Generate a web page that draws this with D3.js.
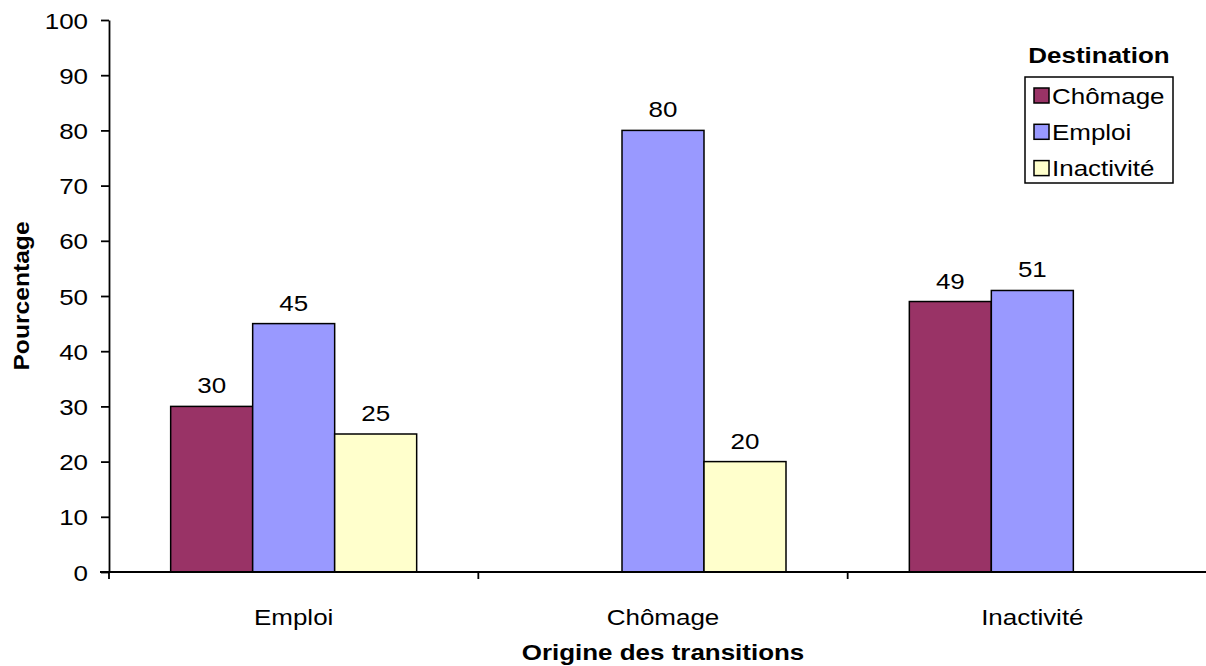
<!DOCTYPE html>
<html>
<head>
<meta charset="utf-8">
<script src="https://cdn.jsdelivr.net/npm/d3@7"></script>
<style>
  html, body { margin: 0; padding: 0; background: #fff; }
  svg { display: block; font-family: "Liberation Sans", Arial, sans-serif; }
</style>
</head>
<body>
<svg id="chart" width="1206" height="666"></svg>
<script>
// Origin of transitions (x categories) and destination series
const origins = ["Emploi", "Chômage", "Inactivité"];
const destinations = ["Chômage", "Emploi", "Inactivité"];
const seriesColors = ["#993366", "#9999FF", "#FFFFCC"];
// Percentage for each destination, by origin (null = no bar)
const toChomage    = [30, null, 49];
const toEmploi     = [45, 80, 51];
const toInactivite = [25, 20, null];
const yTicks = [0, 10, 20, 30, 40, 50, 60, 70, 80, 90, 100];

const seriesValues = [toChomage, toEmploi, toInactivite];

const svg = d3.select("#chart");
const FS = 22, SX = 1.18;   // text size and horizontal stretch

const plot = { left: 109, right: 1217, top: 20, bottom: 572 };

const x = d3.scaleBand().domain(origins).range([plot.left, plot.right]).paddingInner(0).paddingOuter(0);
const groupW = 246;
const xs = d3.scaleBand().domain(destinations).range([0, groupW]).padding(0);
const y = d3.scaleLinear().domain([0, 100]).range([plot.bottom, plot.top]);

function label(g, px, py, str, anchor, bold, size) {
  return g.append("text")
    .attr("transform", `translate(${px},${py}) scale(${SX},1)`)
    .attr("text-anchor", anchor || "middle")
    .attr("font-size", size || FS)
    .attr("font-weight", bold ? "bold" : "normal")
    .attr("fill", "#000")
    .text(str);
}

// Bars with value labels
const bars = svg.append("g");
origins.forEach((o, i) => {
  const gx = x(o) + (x.bandwidth() - groupW) / 2;
  destinations.forEach((d, j) => {
    const v = seriesValues[j][i];
    if (v == null) return;
    const bx = gx + xs(d);
    bars.append("rect")
      .attr("x", bx).attr("y", y(v))
      .attr("width", xs.bandwidth()).attr("height", y(0) - y(v))
      .attr("fill", seriesColors[j])
      .attr("stroke", "#000").attr("stroke-width", 1.5);
    label(bars, bx + xs.bandwidth() / 2, y(v) - 13, String(v));
  });
});

// Y axis
const yAxis = d3.axisLeft(y).tickValues(yTicks).tickSize(8).tickSizeOuter(0).tickFormat(d3.format("d"));
const yg = svg.append("g").attr("transform", `translate(${plot.left},0)`).call(yAxis);
yg.selectAll("path.domain").attr("stroke", "#000").attr("stroke-width", 1.8);
yg.selectAll(".tick line").attr("stroke", "#000").attr("stroke-width", 1.8);
yg.selectAll(".tick text").remove();
yg.selectAll(".tick").each(function (d) {
  label(d3.select(this), -21, 8, String(d), "end");
});

// X axis (category boundaries carry the ticks)
const xBound = d3.scaleLinear().domain([0, origins.length]).range([plot.left, plot.right]);
const xg = svg.append("g").attr("transform", `translate(0,${plot.bottom})`);
xg.append("line").attr("x1", 100).attr("x2", plot.right).attr("y1", 0).attr("y2", 0)
  .attr("stroke", "#000").attr("stroke-width", 1.8);
d3.range(origins.length + 1).forEach(k => {
  xg.append("line").attr("x1", xBound(k)).attr("x2", xBound(k)).attr("y1", 0).attr("y2", 7)
    .attr("stroke", "#000").attr("stroke-width", 1.8);
});
origins.forEach(o => label(xg, x(o) + x.bandwidth() / 2, 53, o));

// Axis titles
label(svg, (plot.left + plot.right) / 2, 660, "Origine des transitions", "middle", true);
svg.append("text")
  .attr("transform", `translate(29,${(plot.top + plot.bottom) / 2}) rotate(-90) scale(1.12,1)`)
  .attr("text-anchor", "middle").attr("font-size", FS).attr("font-weight", "bold")
  .text("Pourcentage");

// Legend
const lg = svg.append("g");
label(lg, 1099, 63, "Destination", "middle", true);
lg.append("rect").attr("x", 1025).attr("y", 77).attr("width", 148).attr("height", 106)
  .attr("fill", "#fff").attr("stroke", "#000").attr("stroke-width", 1.5);
destinations.forEach((d, j) => {
  const cy = 95.5 + j * 36.3;
  lg.append("rect").attr("x", 1034).attr("y", cy - 7.5).attr("width", 15).attr("height", 15)
    .attr("fill", seriesColors[j]).attr("stroke", "#000").attr("stroke-width", 1.5);
  label(lg, 1052, cy + 8, d, "start");
});
</script>
</body>
</html>
